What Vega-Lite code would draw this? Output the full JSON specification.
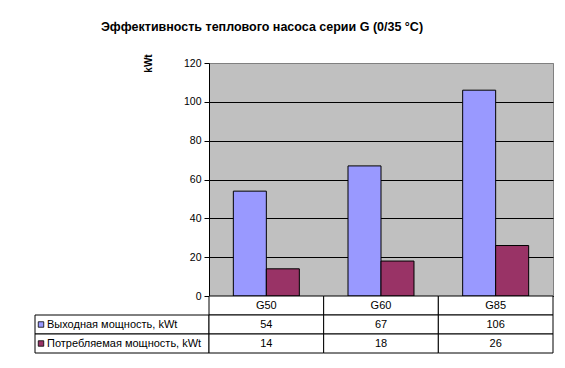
{
  "$schema": "https://vega.github.io/schema/vega-lite/v6.json",
  "padding": {"left": 34, "top": 20, "right": 10, "bottom": 5},
  "background": "white",
  "datasets": {
    "power": [
      {"model": "G50", "series": "Выходная мощность, kWt", "kwt": 54},
      {"model": "G60", "series": "Выходная мощность, kWt", "kwt": 67},
      {"model": "G85", "series": "Выходная мощность, kWt", "kwt": 106},
      {"model": "G50", "series": "Потребляемая мощность, kWt", "kwt": 14},
      {"model": "G60", "series": "Потребляемая мощность, kWt", "kwt": 18},
      {"model": "G85", "series": "Потребляемая мощность, kWt", "kwt": 26}
    ]
  },
  "title": {
    "text": "Эффективность теплового насоса серии G (0/35 °C)",
    "font": "Liberation Sans",
    "fontSize": 12.5,
    "fontWeight": "bold",
    "color": "black",
    "anchor": "middle",
    "dx": -32,
    "offset": 20
  },
  "columns": 2,
  "spacing": 0,
  "bounds": "flush",
  "concat": [
    {
      "width": 174,
      "height": 233,
      "data": {"values": []},
      "mark": "point",
      "encoding": {}
    },
    {
      "width": 344,
      "height": 233,
      "data": {"name": "power"},
      "view": {"fill": "#C0C0C0", "stroke": "#808080"},
      "mark": {"type": "bar", "stroke": "black", "strokeWidth": 1},
      "encoding": {
        "x": {
          "field": "model",
          "type": "nominal",
          "scale": {"domain": ["G50", "G60", "G85"], "paddingInner": 0, "paddingOuter": 0},
          "axis": {"title": null, "labels": false, "ticks": false, "domainColor": "black", "grid": false}
        },
        "xOffset": {
          "field": "series",
          "type": "nominal",
          "scale": {"domain": ["Выходная мощность, kWt", "Потребляемая мощность, kWt"], "paddingInner": 0, "paddingOuter": 0.7375}
        },
        "y": {
          "field": "kwt",
          "type": "quantitative",
          "scale": {"domain": [0, 120], "nice": false},
          "axis": {
            "values": [0, 20, 40, 60, 80, 100, 120],
            "title": "kWt",
            "titleFont": "Liberation Sans",
            "titleFontSize": 10,
            "titleFontWeight": "bold",
            "titleColor": "black",
            "titleAnchor": "end",
            "titleAlign": "center",
            "titlePadding": 30,
            "labelFont": "Liberation Sans",
            "labelFontSize": 10.5,
            "labelColor": "black",
            "labelPadding": 3,
            "tickColor": "black",
            "tickSize": 5,
            "domainColor": "black",
            "grid": true,
            "gridOpacity": 1,
            "gridWidth": 1,
            "gridColor": {"condition": {"test": "datum.value >= 120", "value": "#808080"}, "value": "black"}
          }
        },
        "color": {
          "field": "series",
          "type": "nominal",
          "scale": {"domain": ["Выходная мощность, kWt", "Потребляемая мощность, kWt"], "range": ["#9999FF", "#993366"]},
          "legend": null
        }
      }
    },
    {
      "width": 174,
      "height": 57,
      "data": {"name": "power"},
      "transform": [{"filter": "datum.model === 'G50'"}],
      "layer": [
        {
          "mark": {"type": "rect", "fill": "white", "stroke": "black", "strokeWidth": 1},
          "encoding": {
            "y": {
              "field": "series",
              "type": "nominal",
              "scale": {"domain": ["header", "Выходная мощность, kWt", "Потребляемая мощность, kWt"], "paddingInner": 0, "paddingOuter": 0},
              "axis": null
            }
          }
        },
        {
          "mark": {"type": "point", "shape": "square", "size": 30, "filled": true, "stroke": "black", "strokeWidth": 0.8, "opacity": 1, "xOffset": 6},
          "encoding": {
            "x": {"datum": 0, "type": "quantitative", "scale": {"domain": [0, 1]}, "axis": null},
            "y": {"field": "series", "type": "nominal", "axis": null},
            "fill": {
              "field": "series",
              "type": "nominal",
              "scale": {"domain": ["Выходная мощность, kWt", "Потребляемая мощность, kWt"], "range": ["#9999FF", "#993366"]},
              "legend": null
            }
          }
        },
        {
          "mark": {"type": "text", "align": "left", "baseline": "middle", "dx": 12, "font": "Liberation Sans", "fontSize": 11, "color": "black"},
          "encoding": {
            "x": {"datum": 0, "type": "quantitative", "axis": null},
            "y": {"field": "series", "type": "nominal", "axis": null},
            "text": {"field": "series"}
          }
        }
      ]
    },
    {
      "width": 344,
      "height": 57,
      "data": {"name": "power"},
      "encoding": {
        "x": {
          "field": "model",
          "type": "nominal",
          "scale": {"domain": ["G50", "G60", "G85"], "paddingInner": 0, "paddingOuter": 0},
          "axis": null
        }
      },
      "layer": [
        {
          "transform": [{"filter": "datum.series === 'Выходная мощность, kWt'"}],
          "mark": {"type": "rect", "fill": "white", "stroke": "black", "strokeWidth": 1},
          "encoding": {
            "y": {
              "datum": "header",
              "type": "nominal",
              "scale": {"domain": ["header", "Выходная мощность, kWt", "Потребляемая мощность, kWt"], "paddingInner": 0, "paddingOuter": 0},
              "axis": null
            }
          }
        },
        {
          "transform": [{"filter": "datum.series === 'Выходная мощность, kWt'"}],
          "mark": {"type": "text", "baseline": "middle", "font": "Liberation Sans", "fontSize": 11, "color": "black"},
          "encoding": {
            "y": {"datum": "header", "type": "nominal", "axis": null},
            "text": {"field": "model"}
          }
        },
        {
          "mark": {"type": "rect", "fill": "white", "stroke": "black", "strokeWidth": 1},
          "encoding": {
            "y": {"field": "series", "type": "nominal", "axis": null}
          }
        },
        {
          "mark": {"type": "text", "baseline": "middle", "font": "Liberation Sans", "fontSize": 11, "color": "black"},
          "encoding": {
            "y": {"field": "series", "type": "nominal", "axis": null},
            "text": {"field": "kwt"}
          }
        }
      ]
    }
  ],
  "config": {
    "view": {"stroke": null},
    "font": "Liberation Sans"
  }
}
